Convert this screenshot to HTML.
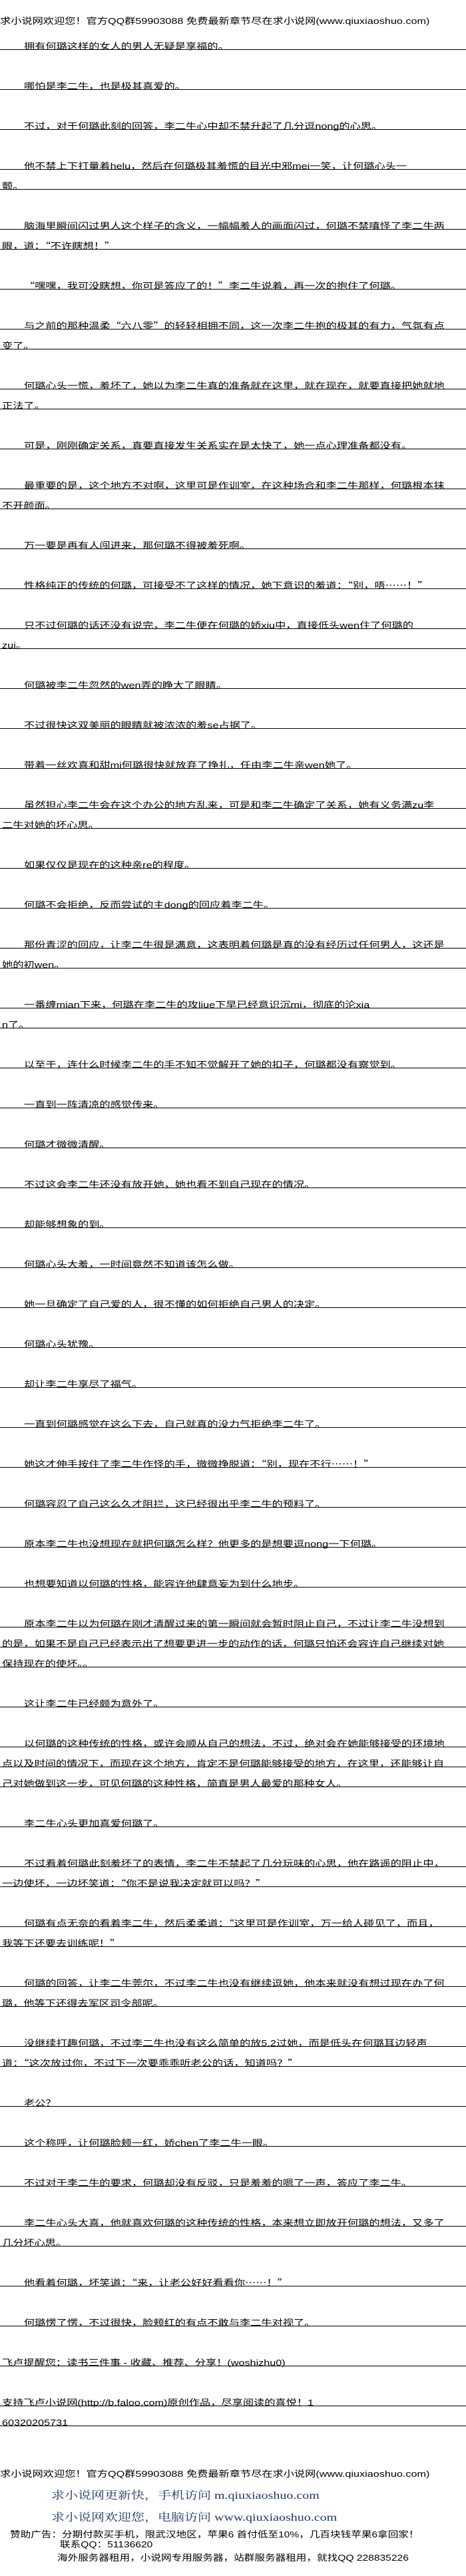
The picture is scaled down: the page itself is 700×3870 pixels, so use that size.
<!DOCTYPE html>
<html><head><meta charset="utf-8">
<style>
html,body{margin:0;padding:0;background:#fff;}
body{width:700px;height:3870px;position:relative;overflow:hidden;font-family:"Liberation Sans","Noto Sans CJK SC",sans-serif;color:#000;}
.l{position:absolute;left:0;width:700px;height:1px;background:#000;}
.l span,.h{position:absolute;white-space:nowrap;font-size:13px;line-height:1;transform:scaleX(1.246);transform-origin:0 100%;}
.l span{left:36px;bottom:-1px;}
.l.c span{left:3px;}
.h{left:0;}
.q{font-family:"Noto Sans CJK SC",sans-serif;}
.b{position:absolute;white-space:nowrap;font-family:"Liberation Serif","Noto Serif CJK SC",serif;font-size:16px;line-height:1;color:#1f3468;transform:scaleX(1.25);transform-origin:0 50%;}
.a{position:absolute;white-space:nowrap;font-size:13px;line-height:1;transform:scaleX(1.2);transform-origin:0 50%;}
</style></head><body>
<div class="h" style="top:25px">求小说网欢迎您！官方QQ群59903088 免费最新章节尽在求小说网(www.qiuxiaoshuo.com)</div>

<div class="l" style="top:74px"><span>拥有何璐这样的女人的男人无疑是享福的。</span></div>
<div class="l" style="top:134px"><span>哪怕是李二牛，也是极其喜爱的。</span></div>
<div class="l" style="top:194px"><span>不过，对于何璐此刻的回答，李二牛心中却不禁升起了几分逗nong的心思。</span></div>
<div class="l" style="top:254px"><span>他不禁上下打量着helu，然后在何璐极其羞慌的目光中邪mei一笑，让何璐心头一</span></div>
<div class="l c" style="top:284px"><span>颤。</span></div>
<div class="l" style="top:344px"><span>脑海里瞬间闪过男人这个样子的含义，一幅幅羞人的画面闪过，何璐不禁嗔怪了李二牛两</span></div>
<div class="l c" style="top:374px"><span>眼，道：<span class="q" style="position:static">“不许瞎想！”</span></span></div>
<div class="l" style="top:434px"><span><span class="q" style="position:static">“嘿嘿，我可没瞎想，你可是答应了的！”</span>李二牛说着，再一次的抱住了何璐。</span></div>
<div class="l" style="top:494px"><span>与之前的那种温柔<span class="q" style="position:static">“六八零”</span>的轻轻相拥不同，这一次李二牛抱的极其的有力，气氛有点</span></div>
<div class="l c" style="top:524px"><span>变了。</span></div>
<div class="l" style="top:584px"><span>何璐心头一慌，羞坏了，她以为李二牛真的准备就在这里，就在现在，就要直接把她就地</span></div>
<div class="l c" style="top:614px"><span>正法了。</span></div>
<div class="l" style="top:674px"><span>可是，刚刚确定关系，真要直接发生关系实在是太快了，她一点心理准备都没有。</span></div>
<div class="l" style="top:734px"><span>最重要的是，这个地方不对啊，这里可是作训室，在这种场合和李二牛那样，何璐根本抹</span></div>
<div class="l c" style="top:764px"><span>不开颜面。</span></div>
<div class="l" style="top:824px"><span>万一要是再有人闯进来，那何璐不得被羞死啊。</span></div>
<div class="l" style="top:884px"><span>性格纯正的传统的何璐，可接受不了这样的情况，她下意识的羞道：<span class="q" style="position:static">“别，唔……！”</span></span></div>
<div class="l" style="top:944px"><span>只不过何璐的话还没有说完，李二牛便在何璐的娇xiu中，直接低头wen住了何璐的</span></div>
<div class="l c" style="top:974px"><span>zui。</span></div>
<div class="l" style="top:1034px"><span>何璐被李二牛忽然的wen弄的睁大了眼睛。</span></div>
<div class="l" style="top:1094px"><span>不过很快这双美丽的眼睛就被浓浓的羞se占据了。</span></div>
<div class="l" style="top:1154px"><span>带着一丝欢喜和甜mi何璐很快就放弃了挣扎，任由李二牛亲wen她了。</span></div>
<div class="l" style="top:1214px"><span>虽然担心李二牛会在这个办公的地方乱来，可是和李二牛确定了关系，她有义务满zu李</span></div>
<div class="l c" style="top:1244px"><span>二牛对她的坏心思。</span></div>
<div class="l" style="top:1304px"><span>如果仅仅是现在的这种亲re的程度。</span></div>
<div class="l" style="top:1364px"><span>何璐不会拒绝，反而尝试的主dong的回应着李二牛。</span></div>
<div class="l" style="top:1424px"><span>那份青涩的回应，让李二牛很是满意，这表明着何璐是真的没有经历过任何男人，这还是</span></div>
<div class="l c" style="top:1454px"><span>她的初wen。</span></div>
<div class="l" style="top:1514px"><span>一番缠mian下来，何璐在李二牛的攻liue下早已经意识沉mi，彻底的沦xia</span></div>
<div class="l c" style="top:1544px"><span>n了。</span></div>
<div class="l" style="top:1604px"><span>以至于，连什么时候李二牛的手不知不觉解开了她的扣子，何璐都没有察觉到。</span></div>
<div class="l" style="top:1664px"><span>一直到一阵清凉的感觉传来。</span></div>
<div class="l" style="top:1724px"><span>何璐才微微清醒。</span></div>
<div class="l" style="top:1784px"><span>不过这会李二牛还没有放开她，她也看不到自己现在的情况。</span></div>
<div class="l" style="top:1844px"><span>却能够想象的到。</span></div>
<div class="l" style="top:1904px"><span>何璐心头大羞，一时间竟然不知道该怎么做。</span></div>
<div class="l" style="top:1964px"><span>她一旦确定了自己爱的人，很不懂的如何拒绝自己男人的决定。</span></div>
<div class="l" style="top:2024px"><span>何璐心头犹豫。</span></div>
<div class="l" style="top:2084px"><span>却让李二牛享尽了福气。</span></div>
<div class="l" style="top:2144px"><span>一直到何璐感觉在这么下去，自己就真的没力气拒绝李二牛了。</span></div>
<div class="l" style="top:2204px"><span>她这才伸手按住了李二牛作怪的手，微微挣脱道：<span class="q" style="position:static">“别，现在不行……！”</span></span></div>
<div class="l" style="top:2264px"><span>何璐容忍了自己这么久才阻拦，这已经很出乎李二牛的预料了。</span></div>
<div class="l" style="top:2324px"><span>原本李二牛也没想现在就把何璐怎么样？他更多的是想要逗nong一下何璐。</span></div>
<div class="l" style="top:2384px"><span>也想要知道以何璐的性格，能容许他肆意妄为到什么地步。</span></div>
<div class="l" style="top:2444px"><span>原本李二牛以为何璐在刚才清醒过来的第一瞬间就会暂时阻止自己，不过让李二牛没想到</span></div>
<div class="l c" style="top:2474px"><span>的是，如果不是自己已经表示出了想要更进一步的动作的话，何璐只怕还会容许自己继续对她</span></div>
<div class="l c" style="top:2504px"><span>保持现在的使坏。。</span></div>
<div class="l" style="top:2564px"><span>这让李二牛已经颇为意外了。</span></div>
<div class="l" style="top:2624px"><span>以何璐的这种传统的性格，或许会顺从自己的想法，不过，绝对会在她能够接受的环境地</span></div>
<div class="l c" style="top:2654px"><span>点以及时间的情况下，而现在这个地方，肯定不是何璐能够接受的地方，在这里，还能够让自</span></div>
<div class="l c" style="top:2684px"><span>己对她做到这一步，可见何璐的这种性格，简直是男人最爱的那种女人。</span></div>
<div class="l" style="top:2744px"><span>李二牛心头更加喜爱何璐了。</span></div>
<div class="l" style="top:2804px"><span>不过看着何璐此刻羞坏了的表情，李二牛不禁起了几分玩味的心思，他在路遥的阻止中，</span></div>
<div class="l c" style="top:2834px"><span>一边使坏，一边坏笑道：<span class="q" style="position:static">“你不是说我决定就可以吗？”</span></span></div>
<div class="l" style="top:2894px"><span>何璐有点无奈的看着李二牛，然后柔柔道：<span class="q" style="position:static">“这里可是作训室，万一给人碰见了，而且，</span></span></div>
<div class="l c" style="top:2924px"><span>我等下还要去训练呢！<span class="q" style="position:static">”</span></span></div>
<div class="l" style="top:2984px"><span>何璐的回答，让李二牛莞尔，不过李二牛也没有继续逗她，他本来就没有想过现在办了何</span></div>
<div class="l c" style="top:3014px"><span>璐，他等下还得去军区司令部呢。</span></div>
<div class="l" style="top:3074px"><span>没继续打趣何璐，不过李二牛也没有这么简单的放5.2过她，而是低头在何璐耳边轻声</span></div>
<div class="l c" style="top:3104px"><span>道：<span class="q" style="position:static">“这次放过你，不过下一次要乖乖听老公的话，知道吗？”</span></span></div>
<div class="l" style="top:3164px"><span>老公？</span></div>
<div class="l" style="top:3224px"><span>这个称呼，让何璐脸颊一红，娇chen了李二牛一眼。</span></div>
<div class="l" style="top:3284px"><span>不过对于李二牛的要求，何璐却没有反驳，只是羞羞的嗯了一声，答应了李二牛。</span></div>
<div class="l" style="top:3344px"><span>李二牛心头大喜，他就喜欢何璐的这种传统的性格，本来想立即放开何璐的想法，又多了</span></div>
<div class="l c" style="top:3374px"><span>几分坏心思。</span></div>
<div class="l" style="top:3434px"><span>他看着何璐，坏笑道：<span class="q" style="position:static">“来，让老公好好看看你……！”</span></span></div>
<div class="l" style="top:3494px"><span>何璐愣了愣，不过很快，脸颊红的有点不敢与李二牛对视了。</span></div>
<div class="l c" style="top:3554px"><span>飞卢提醒您：读书三件事 - 收藏、推荐、分享！(woshizhu0)</span></div>
<div class="l c" style="top:3614px"><span>支持飞卢小说网(http://b.faloo.com)原创作品，尽享阅读的喜悦！1</span></div>
<div class="l c" style="top:3644px"><span>60320205731</span></div>

<div class="h" style="top:3710px">求小说网欢迎您！官方QQ群59903088 免费最新章节尽在求小说网(www.qiuxiaoshuo.com)</div>
<div class="b" style="left:77px;top:3742px">求小说网更新快，手机访问 m.qiuxiaoshuo.com</div>
<div class="b" style="left:77px;top:3775px">求小说网欢迎您，电脑访问 www.qiuxiaoshuo.com</div>
<div class="a" style="left:15px;top:3801px">赞助广告：分期付款买手机，限武汉地区，苹果6 首付低至10%，几百块钱苹果6拿回家！</div>
<div class="a" style="left:90px;top:3816px">联系QQ：51136620</div>
<div class="a" style="left:86px;top:3836px">海外服务器租用，小说网专用服务器，站群服务器租用，就找QQ 228835226</div>
</body></html>
